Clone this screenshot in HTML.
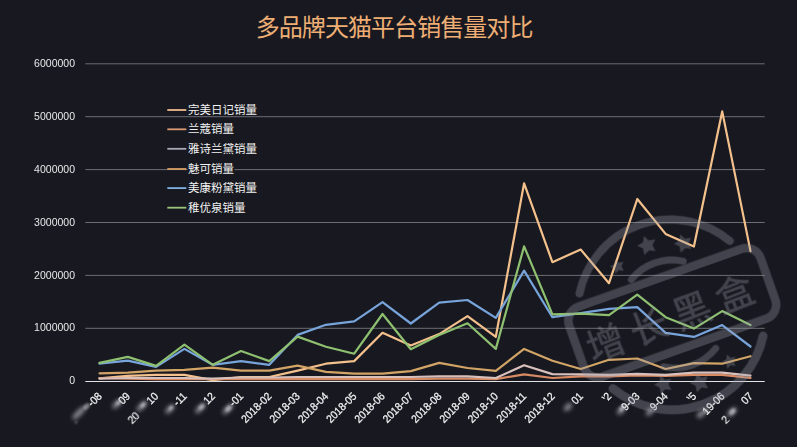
<!DOCTYPE html>
<html><head><meta charset="utf-8"><title>多品牌天猫平台销售量对比</title>
<style>html,body{margin:0;padding:0;background:#181920;}body{width:797px;height:447px;overflow:hidden;font-family:"Liberation Sans",sans-serif;}</style>
</head><body>
<svg width="797" height="447" viewBox="0 0 797 447" style="display:block" role="img" aria-label="多品牌天猫平台销售量对比">
<title>多品牌天猫平台销售量对比</title>
<defs>
<filter id="b2" x="-50%" y="-50%" width="200%" height="200%"><feGaussianBlur stdDeviation="1.9"/></filter>
<filter id="soft" x="-5%" y="-5%" width="110%" height="110%"><feGaussianBlur stdDeviation="0.35"/></filter>
<clipPath id="c0"><polygon points="-8.4,-3 2,-3 2,12 -5.9,12 -5.9,3.4 -8.4,3.4"/></clipPath>
<filter id="b1" x="-80%" y="-80%" width="260%" height="260%"><feGaussianBlur stdDeviation="1.1"/></filter>
</defs>
<rect width="797" height="447" fill="#181920"/>
<line x1="85.3" x2="764.7" y1="328.30" y2="328.30" stroke="#6c6d74" stroke-width="1"/>
<line x1="85.3" x2="764.7" y1="275.40" y2="275.40" stroke="#6c6d74" stroke-width="1"/>
<line x1="85.3" x2="764.7" y1="222.50" y2="222.50" stroke="#6c6d74" stroke-width="1"/>
<line x1="85.3" x2="764.7" y1="169.60" y2="169.60" stroke="#6c6d74" stroke-width="1"/>
<line x1="85.3" x2="764.7" y1="116.70" y2="116.70" stroke="#6c6d74" stroke-width="1"/>
<line x1="85.3" x2="764.7" y1="63.80" y2="63.80" stroke="#6c6d74" stroke-width="1"/>
<g font-family="Liberation Sans, sans-serif" font-size="10.5" fill="#e8e8ea" text-anchor="end" opacity="0.999">
<text x="75" y="384.30">0</text>
<text x="75" y="331.40">1000000</text>
<text x="75" y="278.50">2000000</text>
<text x="75" y="225.60">3000000</text>
<text x="75" y="172.70">4000000</text>
<text x="75" y="119.80">5000000</text>
<text x="75" y="66.90">6000000</text>
</g>
<line x1="85.3" x2="764.7" y1="381.5" y2="381.5" stroke="#e2e2e4" stroke-width="1.1"/>
<g fill="none" stroke-width="2.2" stroke-linejoin="round" stroke-linecap="round">
<polyline points="99.5,378.3 127.8,375.9 156.1,374.9 184.4,374.9 212.7,380.1 241.0,377.0 269.3,377.0 297.6,370.6 325.9,363.7 354.2,361.1 382.5,332.8 410.8,345.4 439.2,334.1 467.5,316.1 495.8,336.8 524.1,183.3 552.4,262.2 580.7,249.5 609.0,283.2 637.3,199.0 665.6,233.9 693.9,246.5 722.2,111.4 750.5,251.1" stroke="#f4c18c"/>
<polyline points="99.5,378.0 127.8,378.6 156.1,379.1 184.4,379.1 212.7,379.1 241.0,379.1 269.3,379.1 297.6,379.1 325.9,379.1 354.2,379.1 382.5,379.1 410.8,379.1 439.2,378.6 467.5,378.6 495.8,379.1 524.1,374.3 552.4,378.0 580.7,376.4 609.0,376.4 637.3,375.4 665.6,375.9 693.9,374.9 722.2,374.9 750.5,378.0" stroke="#d88a62"/>
<polyline points="99.5,378.6 127.8,378.0 156.1,378.0 184.4,378.0 212.7,378.6 241.0,377.5 269.3,377.5 297.6,377.0 325.9,377.0 354.2,377.0 382.5,377.0 410.8,377.0 439.2,376.4 467.5,376.4 495.8,378.0 524.1,365.3 552.4,374.1 580.7,374.3 609.0,374.9 637.3,373.8 665.6,374.9 693.9,372.7 722.2,372.7 750.5,375.6" stroke="#d8c0bc"/>
<polyline points="99.5,373.3 127.8,372.7 156.1,370.6 184.4,369.8 212.7,367.7 241.0,370.6 269.3,370.6 297.6,365.6 325.9,371.9 354.2,373.6 382.5,373.6 410.8,371.1 439.2,362.9 467.5,368.0 495.8,370.8 524.1,348.9 552.4,360.8 580.7,369.0 609.0,359.8 637.3,358.5 665.6,369.0 693.9,363.2 722.2,363.7 750.5,356.2" stroke="#d2a466"/>
<polyline points="99.5,363.7 127.8,360.6 156.1,366.9 184.4,348.9 212.7,364.8 241.0,361.1 269.3,364.8 297.6,334.9 325.9,324.8 354.2,321.4 382.5,302.1 410.8,323.5 439.2,302.7 467.5,300.0 495.8,317.9 524.1,270.6 552.4,317.2 580.7,313.2 609.0,308.9 637.3,307.1 665.6,332.9 693.9,336.9 722.2,325.1 750.5,346.5" stroke="#78a4dc"/>
<polyline points="99.5,362.9 127.8,356.9 156.1,365.9 184.4,344.7 212.7,364.8 241.0,351.0 269.3,361.1 297.6,336.6 325.9,346.7 354.2,353.7 382.5,314.0 410.8,349.2 439.2,334.9 467.5,323.3 495.8,348.9 524.1,246.3 552.4,314.3 580.7,313.6 609.0,315.1 637.3,294.7 665.6,317.2 693.9,328.6 722.2,311.1 750.5,325.1" stroke="#8ec070"/>
</g>
<text x="255.7" y="36" font-family="'Liberation Sans','Noto Sans CJK SC',sans-serif" font-size="24" fill="#eeae74" textLength="277.7" lengthAdjust="spacing">多品牌天猫平台销售量对比</text>
<rect x="187.5" y="167.5" width="47" height="3" fill="#181920"/>
<line x1="167.3" x2="186.3" y1="110" y2="110" stroke="#f0ba90" stroke-width="1.8"/>
<text x="188" y="114" font-family="'Liberation Sans','Noto Sans CJK SC',sans-serif" font-size="11.5" fill="#f2f2f2">完美日记销量</text>
<line x1="167.3" x2="186.3" y1="129.3" y2="129.3" stroke="#d89a74" stroke-width="1.8"/>
<text x="188" y="133.3" font-family="'Liberation Sans','Noto Sans CJK SC',sans-serif" font-size="11.5" fill="#f2f2f2">兰蔻销量</text>
<line x1="167.3" x2="186.3" y1="148.8" y2="148.8" stroke="#a9a9b3" stroke-width="1.8"/>
<text x="188" y="152.8" font-family="'Liberation Sans','Noto Sans CJK SC',sans-serif" font-size="11.5" fill="#f2f2f2">雅诗兰黛销量</text>
<line x1="167.3" x2="186.3" y1="169" y2="169" stroke="#d9a066" stroke-width="1.8"/>
<text x="188" y="173" font-family="'Liberation Sans','Noto Sans CJK SC',sans-serif" font-size="11.5" fill="#f2f2f2">魅可销量</text>
<line x1="167.3" x2="186.3" y1="188.1" y2="188.1" stroke="#7fb0e2" stroke-width="1.8"/>
<text x="188" y="192.1" font-family="'Liberation Sans','Noto Sans CJK SC',sans-serif" font-size="11.5" fill="#f2f2f2">美康粉黛销量</text>
<line x1="167.3" x2="186.3" y1="207.7" y2="207.7" stroke="#98c47c" stroke-width="1.8"/>
<text x="188" y="211.7" font-family="'Liberation Sans','Noto Sans CJK SC',sans-serif" font-size="11.5" fill="#f2f2f2">稚优泉销量</text>
<g font-family="Liberation Sans, sans-serif" font-size="11" fill="#f2f2f4" stroke="#f2f2f4" stroke-width="0.25" text-anchor="end" opacity="0.999">
<text transform="translate(97.2 391.6) rotate(-45) scale(0.93 1)" x="0" y="7.5">-08</text>
<text transform="translate(125.5 391.6) rotate(-45) scale(0.93 1)" x="0" y="7.5">09</text>
<text transform="translate(153.8 391.6) rotate(-45) scale(0.93 1)" x="0" y="7.5">10</text>
<text transform="translate(182.1 391.6) rotate(-45) scale(0.93 1)" x="0" y="7.5">-11</text>
<text transform="translate(210.4 391.6) rotate(-45) scale(0.93 1)" x="0" y="7.5">12</text>
<text transform="translate(238.7 391.6) rotate(-45) scale(0.93 1)" x="0" y="7.5">-01</text>
<text transform="translate(267.0 391.6) rotate(-45) scale(0.93 1)" x="0" y="7.5">2018-02</text>
<text transform="translate(295.3 391.6) rotate(-45) scale(0.93 1)" x="0" y="7.5">2018-03</text>
<text transform="translate(323.6 391.6) rotate(-45) scale(0.93 1)" x="0" y="7.5">2018-04</text>
<text transform="translate(351.9 391.6) rotate(-45) scale(0.93 1)" x="0" y="7.5">2018-05</text>
<text transform="translate(380.2 391.6) rotate(-45) scale(0.93 1)" x="0" y="7.5">2018-06</text>
<text transform="translate(408.5 391.6) rotate(-45) scale(0.93 1)" x="0" y="7.5">2018-07</text>
<text transform="translate(436.9 391.6) rotate(-45) scale(0.93 1)" x="0" y="7.5">2018-08</text>
<text transform="translate(465.2 391.6) rotate(-45) scale(0.93 1)" x="0" y="7.5">2018-09</text>
<text transform="translate(493.5 391.6) rotate(-45) scale(0.93 1)" x="0" y="7.5">2018-10</text>
<text transform="translate(521.8 391.6) rotate(-45) scale(0.93 1)" x="0" y="7.5">2018-11</text>
<text transform="translate(550.1 391.6) rotate(-45) scale(0.93 1)" x="0" y="7.5">2018-12</text>
<text transform="translate(578.4 391.6) rotate(-45) scale(0.93 1)" x="0" y="7.5">01</text>
<text transform="translate(606.7 391.6) rotate(-45) scale(0.93 1)" x="0" y="7.5" clip-path="url(#c0)">02</text>
<text transform="translate(635.0 391.6) rotate(-45) scale(0.93 1)" x="0" y="7.5">9-03</text>
<text transform="translate(663.3 391.6) rotate(-45) scale(0.93 1)" x="0" y="7.5">9-04</text>
<text transform="translate(691.6 391.6) rotate(-45) scale(0.93 1)" x="0" y="7.5" clip-path="url(#c0)">05</text>
<text transform="translate(719.9 391.6) rotate(-45) scale(0.93 1)" x="0" y="7.5">19-06</text>
<text transform="translate(748.2 391.6) rotate(-45) scale(0.93 1)" x="0" y="7.5">07</text>
</g>
<g fill="#b4b4bc" opacity="0.7" filter="url(#b2)">
<ellipse transform="translate(79 413) rotate(-45)" rx="9" ry="3"/>
<ellipse transform="translate(117 404) rotate(-45)" rx="6" ry="3"/>
<ellipse transform="translate(142 406) rotate(-45)" rx="7" ry="3"/>
<ellipse transform="translate(170 409) rotate(-45)" rx="6" ry="3"/>
<ellipse transform="translate(200.5 408) rotate(-45)" rx="7" ry="3"/>
<ellipse transform="translate(228 409) rotate(-45)" rx="7" ry="3"/>
<ellipse transform="translate(568 407) rotate(-45)" rx="5" ry="3"/>
<ellipse transform="translate(621 410.5) rotate(-45)" rx="5" ry="3"/>
<ellipse transform="translate(650 411.5) rotate(-45)" rx="5" ry="3"/>
<ellipse transform="translate(701 414) rotate(-45)" rx="5" ry="3"/>
<ellipse transform="translate(732 412) rotate(-45)" rx="6" ry="3"/>
</g>
<g fill="#dcdce2" opacity="0.5" filter="url(#b1)">
<ellipse transform="translate(86.5 406.5) rotate(-45)" rx="3.9" ry="2.6"/>
<ellipse transform="translate(622.4 408) rotate(-45)" rx="3.6" ry="2.4"/>
<ellipse transform="translate(706 411) rotate(-45)" rx="3.3" ry="2.2"/>
<ellipse transform="translate(732.5 411.5) rotate(-45)" rx="3.6" ry="2.4"/>
<ellipse transform="translate(228.5 408.5) rotate(-45)" rx="3.6" ry="2.4"/>
<ellipse transform="translate(201.5 407) rotate(-45)" rx="3.3" ry="2.2"/>
<ellipse transform="translate(76.1 422.4) rotate(-45)" rx="1.5" ry="1.0"/>
<ellipse transform="translate(143 405) rotate(-45)" rx="3.0" ry="2.0"/>
<ellipse transform="translate(118.5 402.5) rotate(-45)" rx="3.0" ry="2.0"/>
<ellipse transform="translate(171 408) rotate(-45)" rx="2.7" ry="1.8"/>
</g>
<g font-family="Liberation Sans, sans-serif" font-size="11" fill="#f2f2f4" stroke="#f2f2f4" stroke-width="0.25" opacity="0.999">
<text transform="translate(132.3 424.6) rotate(-45) scale(0.93 1)">20</text>
<text transform="translate(726 424.5) rotate(-45) scale(0.93 1)">2</text>
</g>
<g transform="translate(672 312) rotate(-19.5)" opacity="0.32" filter="url(#soft)">
<g fill="none" stroke="#9a9ca8" stroke-linecap="round">
<path transform="translate(-1.6 0.1)" d="M-79.38 -48.45A93 93 0 0 1 79.72 -47.90" stroke-width="8"/>
<path transform="translate(-1.5 4.5)" d="M79.38 48.45A93 93 0 0 1 -79.72 47.90" stroke-width="8.8"/>
<path d="M-27.56 -44.10A52 52 0 0 1 27.56 -44.10" stroke-width="6.8"/>
<path transform="translate(1.5 4.8)" d="M27.56 44.10A52 52 0 0 1 -27.56 44.10" stroke-width="6.8"/>
<rect x="-101.5" y="-36.3" width="203" height="74.1" rx="15" stroke-width="8.5"/>
</g>
<g fill="#9a9ca8">
<polygon points="-1.12,-80.99 1.94,-75.20 8.40,-74.08 3.83,-69.38 4.76,-62.90 -1.12,-65.79 -6.99,-62.90 -6.06,-69.38 -10.63,-74.08 -4.17,-75.20"/>
<polygon points="33.69,-70.29 36.60,-64.78 42.73,-63.72 38.39,-59.26 39.28,-53.10 33.69,-55.85 28.11,-53.10 29.00,-59.26 24.66,-63.72 30.79,-64.78"/>
<polygon points="-36.14,-68.61 -33.85,-64.27 -29.01,-63.43 -32.43,-59.91 -31.73,-55.05 -36.14,-57.21 -40.55,-55.05 -39.85,-59.91 -43.27,-63.43 -38.43,-64.27"/>
<g transform="translate(1.5 4.8)">
<polygon points="1.12,60.99 4.17,66.78 10.63,67.90 6.06,72.60 6.99,79.08 1.12,76.19 -4.76,79.08 -3.83,72.60 -8.40,67.90 -1.94,66.78"/>
<polygon points="-33.69,51.29 -30.79,56.79 -24.66,57.85 -29.00,62.31 -28.11,68.47 -33.69,65.73 -39.28,68.47 -38.39,62.31 -42.73,57.85 -36.60,56.79"/>
<polygon points="36.14,53.61 38.43,57.96 43.27,58.80 39.85,62.32 40.55,67.18 36.14,65.01 31.73,67.18 32.43,62.32 29.01,58.80 33.85,57.96"/>
</g>
</g>
<g fill="#9a9ca8" transform="rotate(-1.5)" stroke="#9a9ca8" stroke-width="0.53" stroke-linejoin="round" font-family="'Liberation Sans','Noto Sans CJK SC',sans-serif" font-size="38">
<text x="-92" y="19.42">增</text>
<text x="-46" y="19.42">长</text>
<text x="0" y="19.42">黑</text>
<text x="46" y="19.42">盒</text>
</g>
</g>
</svg>
</body></html>
